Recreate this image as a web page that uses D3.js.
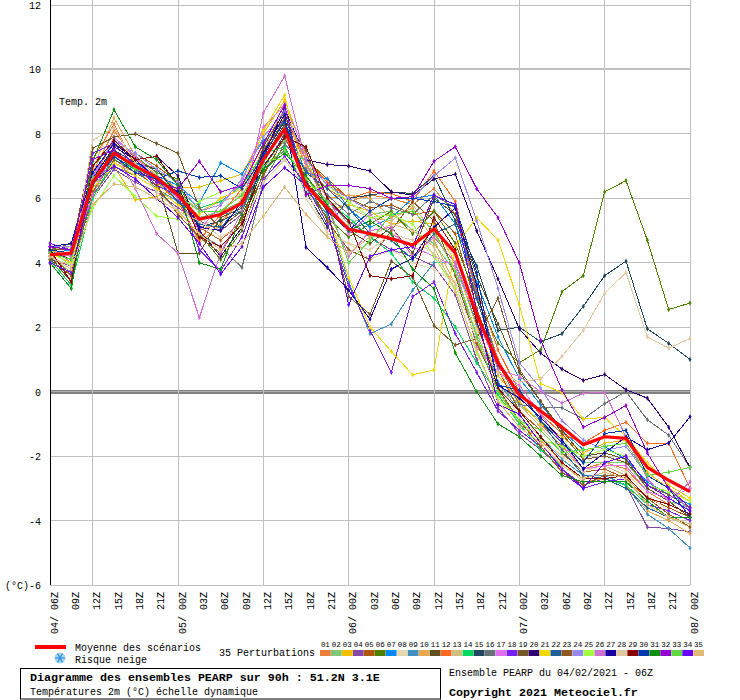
<!DOCTYPE html>
<html><head><meta charset="utf-8">
<script src="https://cdn.jsdelivr.net/npm/d3@7"></script>
<style>
html,body{margin:0;padding:0;background:#fff}
svg{display:block}
text{font-family:"Liberation Mono","DejaVu Sans Mono",monospace;fill:#000;white-space:pre}
</style></head><body>
<svg id="c" width="740" height="700"></svg>
<script>
const hours = ["04/ 06Z","09Z","12Z","15Z","18Z","21Z","05/ 00Z","03Z","06Z","09Z","12Z","15Z","18Z","21Z","06/ 00Z","03Z","06Z","09Z","12Z","15Z","18Z","21Z","07/ 00Z","03Z","06Z","09Z","12Z","15Z","18Z","21Z","08/ 00Z"];
const gridHours = [2,6,10,14,18,22,26,30];
const yTicks = [-6,-4,-2,0,2,4,6,8,10,12];
const labels = ["01","02","03","04","05","06","07","08","09","10","11","12","13","14","15","16","17","18","19","20","21","22","23","24","25","26","27","28","29","30","31","32","33","34","35"];
const colors = ["#e8803a","#80c878","#f0c000","#8848a8","#b05810","#508000","#0088ff","#e8d8b0","#4090c0","#e8a850","#605020","#ff6820","#d0c080","#00d860","#204860","#687078","#e070f0","#7820f0","#785828","#300070","#f0d800","#206098","#905820","#9888f0","#a0ff40","#d070d0","#1800a0","#e0c8a0","#880000","#0038b0","#109010","#9000d0","#60d840","#6800f8","#e0b878"];
const mean = [4.25,4.3,6.5,7.4,7.0,6.65,6.1,5.35,5.5,5.85,7.2,8.15,6.4,5.7,5.05,4.9,4.75,4.55,5.05,4.3,2.4,0.9,-0.1,-0.6,-1.1,-1.65,-1.4,-1.45,-2.35,-2.75,-3.1];
const s01 = [4.3,4.0,6.8,8.1,7.2,6.9,6.2,5.0,5.3,5.9,7.5,8.6,7.0,6.3,5.9,6.1,6.0,5.8,6.3,5.5,3.0,1.0,-0.3,-1.0,-1.7,-2.4,-2.2,-2.4,-3.1,-3.5,-3.8];
const s02 = [4.2,3.7,6.3,7.2,6.9,6.5,6.0,5.4,5.6,5.9,7.0,7.8,7.1,6.0,5.2,5.5,5.6,5.0,4.6,3.7,1.8,0.2,-0.4,-0.9,-1.5,-2.2,-2.2,-2.2,-3.0,-3.4,-3.6];
const s03 = [4.4,4.2,6.2,7.0,5.95,6.05,6.35,6.35,6.55,6.75,8.0,9.05,7.3,5.6,5.8,5.6,5.2,5.3,5.2,4.0,2.0,0.5,-0.3,-1.0,-1.4,-1.9,-1.6,-1.5,-2.5,-3.0,-3.4];
const s04 = [4.1,3.9,6.0,6.9,6.5,6.2,5.7,5.3,5.0,5.5,6.9,7.5,6.6,5.9,5.3,4.8,4.4,4.2,3.9,3.0,1.0,-0.5,-1.3,-1.8,-2.4,-2.9,-2.7,-2.9,-4.2,-4.25,-4.35];
const s05 = [4.3,3.6,6.6,7.8,7.4,7.0,6.5,5.1,4.7,5.3,7.3,8.5,7.2,6.6,6.0,5.7,5.8,5.5,5.6,4.9,2.6,0.7,-0.6,-1.2,-1.9,-2.5,-2.4,-2.7,-3.3,-3.6,-3.9];
const s06 = [4.4,4.6,7.0,7.7,7.3,6.8,6.6,4.9,4.1,5.0,6.8,7.6,6.3,5.4,4.8,5.2,5.6,4.9,5.6,4.6,2.9,1.5,0.9,1.3,3.1,3.6,6.2,6.55,4.7,2.55,2.75];
const s07 = [4.3,4.4,6.7,7.5,7.1,6.7,6.4,5.85,7.1,6.75,7.8,8.4,6.8,6.6,5.7,5.1,5.4,6.0,6.1,5.2,3.4,1.7,0.4,-0.4,-1.2,-1.8,-1.7,-2.1,-2.8,-3.2,-3.5];
const s08 = [4.0,3.5,5.9,7.3,6.8,6.6,5.9,5.0,5.6,6.2,7.4,8.0,6.0,5.0,4.6,4.1,4.4,4.0,3.8,3.4,1.9,0.3,-0.8,-1.4,-2.0,-2.5,-2.2,-2.5,-3.2,-3.7,-4.0];
const s09 = [4.2,3.8,6.2,7.3,6.9,6.3,5.9,5.4,5.5,5.6,7.1,8.2,6.3,5.5,3.4,1.8,2.1,3.15,4.0,4.0,2.1,0.3,-0.6,-1.4,-2.1,-2.6,-2.6,-2.9,-3.8,-4.25,-4.85];
const s10 = [4.4,4.1,6.9,8.5,7.3,6.7,6.0,4.6,5.2,6.0,7.6,8.8,7.0,6.0,6.1,6.0,5.4,5.7,4.7,3.3,1.6,0.0,-1.0,-1.5,-2.2,-2.8,-2.7,-2.9,-3.7,-4.0,-4.4];
const s11 = [4.2,3.4,6.4,7.6,7.2,6.6,4.3,4.3,5.4,5.7,7.2,8.3,6.5,5.8,5.0,4.6,5.1,4.3,6.0,5.5,3.6,2.1,0.6,-0.3,-1.2,-2.0,-1.9,-2.1,-3.0,-3.4,-3.9];
const s12 = [4.3,4.3,7.2,8.3,7.0,6.5,5.9,4.7,5.5,6.3,7.7,8.5,7.2,6.5,6.0,6.2,6.15,5.9,6.85,5.9,3.2,1.3,0.0,-0.7,-1.3,-1.6,-1.2,-0.95,-1.6,-1.6,-3.0];
const s13 = [4.4,4.5,6.4,7.1,6.8,6.4,6.2,5.6,5.9,6.1,7.3,8.1,6.7,5.9,5.7,5.4,5.3,5.8,4.9,3.8,2.3,0.7,-0.4,-1.1,-1.8,-2.4,-2.3,-2.6,-3.5,-3.9,-4.2];
const s14 = [4.1,3.3,6.0,7.2,6.9,6.6,6.3,5.7,5.9,6.4,7.4,7.6,6.2,5.9,5.4,4.8,4.3,3.4,2.9,2.0,0.9,-0.1,-1.0,-1.8,-2.3,-2.7,-2.7,-2.9,-3.5,-3.9,-4.1];
const s15 = [4.3,4.2,6.5,7.5,7.1,6.9,6.1,5.1,5.3,5.6,7.6,8.7,6.2,5.1,6.0,6.1,6.2,6.15,6.7,5.3,3.9,1.9,2.0,1.55,1.8,2.65,3.6,4.05,1.95,1.5,1.0];
const s16 = [4.2,3.9,6.1,7.0,6.7,6.3,5.6,4.9,4.5,3.85,6.5,7.7,6.9,6.1,5.5,5.9,5.7,5.5,6.1,5.7,3.1,0.9,-0.4,-0.5,-0.5,-0.85,-0.37,0.0,-0.87,-1.35,-2.35];
const s17 = [4.5,4.0,6.6,7.9,7.3,6.6,6.0,5.0,5.8,6.5,8.2,8.9,7.4,6.0,4.9,5.5,4.9,4.5,4.2,3.9,1.4,0.6,0.2,-0.7,-1.6,-2.4,-2.3,-2.3,-3.1,-3.3,-3.0];
const s18 = [4.6,4.4,7.4,7.7,7.0,6.4,6.1,4.4,3.75,4.8,6.6,7.3,6.4,5.2,3.3,1.9,0.6,2.95,3.4,1.8,0.6,-0.6,-1.2,-1.7,-2.5,-3.0,-2.8,-2.7,-3.5,-3.7,-4.0];
const s19 = [4.4,4.4,7.55,7.9,8.0,7.7,7.4,5.7,5.1,5.6,7.5,8.4,7.5,5.6,2.95,2.4,4.05,3.55,2.05,1.45,1.65,2.9,0.7,-0.3,-1.3,-2.1,-2.0,-2.2,-2.9,-3.2,-3.6];
const s20 = [4.35,4.1,6.6,7.6,7.2,7.3,6.7,5.0,4.2,5.1,7.3,8.8,7.2,7.05,7.0,6.85,6.2,6.1,6.6,6.75,5.0,3.5,1.95,1.2,0.7,0.35,0.53,0.06,-0.2,-1.1,-2.35];
const s21 = [4.3,4.0,6.3,7.1,6.7,6.3,5.8,5.5,6.0,6.3,8.1,9.2,6.4,5.6,3.55,2.0,1.25,0.52,0.68,4.5,5.4,4.7,2.7,0.25,-0.03,-0.85,-0.8,-1.4,-2.2,-2.9,-3.3];
const s22 = [4.2,3.8,6.4,7.3,6.9,6.6,5.9,5.2,5.1,5.8,6.9,8.0,6.8,6.3,5.7,4.9,4.7,4.1,4.9,5.2,2.9,0.8,0.0,-0.9,-1.8,-2.6,-2.7,-3.0,-3.6,-3.9,-4.1];
const s23 = [4.1,3.6,6.2,7.2,6.8,6.4,5.5,4.8,4.3,5.4,6.7,7.9,6.6,5.3,4.4,4.1,5.0,5.9,5.3,3.6,1.5,0.1,-0.9,-1.7,-2.5,-2.9,-2.6,-2.6,-3.3,-3.8,-4.2];
const s24 = [4.5,4.5,6.7,7.8,7.4,6.9,6.5,5.6,5.8,6.6,7.9,8.7,7.2,6.4,6.0,5.6,6.0,6.0,6.7,7.25,5.3,3.2,0.9,0.1,-0.9,-1.5,-1.8,-1.7,-2.6,-3.0,-3.7];
const s25 = [4.4,3.9,5.7,6.7,6.05,5.45,5.35,5.9,6.2,6.4,7.2,7.2,6.3,6.4,5.9,5.4,5.5,5.2,4.2,3.2,1.2,-0.2,-0.9,-1.5,-1.7,-2.0,-1.8,-2.0,-2.9,-3.1,-3.4];
const s26 = [4.3,4.2,6.1,7.5,6.3,4.9,4.3,2.3,4.3,5.6,8.65,9.8,7.1,5.7,4.2,5.0,5.1,4.2,4.8,4.0,2.3,0.7,0.47,0.0,-0.35,-0.05,-0.02,-1.4,-2.7,-3.4,-2.8];
const s27 = [4.5,4.6,6.8,7.7,7.2,6.6,6.2,5.1,5.0,5.9,7.4,8.6,4.48,3.85,3.15,2.25,3.8,4.15,5.1,5.7,3.3,0.2,-0.2,-0.8,-1.5,-2.4,-1.9,-1.4,-1.8,-1.6,-0.78];
const s28 = [4.2,3.9,7.8,8.2,7.1,6.2,5.6,5.3,4.8,5.1,6.5,7.2,6.3,4.9,4.6,4.4,4.9,4.7,4.3,3.3,1.6,0.6,0.3,0.4,1.1,1.9,3.05,3.7,1.7,1.35,1.65];
const s29 = [4.4,3.4,7.0,7.8,7.2,7.3,6.4,4.8,4.5,5.2,7.0,7.9,7.6,6.0,5.3,3.6,3.5,3.6,5.4,4.4,2.2,0.1,-0.6,-1.4,-2.2,-2.7,-2.7,-2.6,-3.3,-3.5,-3.8];
const s30 = [4.4,4.3,6.5,7.3,6.8,6.6,6.85,6.65,6.7,6.3,7.3,8.4,6.5,5.6,5.0,5.6,6.0,6.0,5.9,5.75,3.7,0.2,0.05,-0.9,-1.6,-2.2,-1.3,-1.2,-2.6,-3.0,-3.9];
const s31 = [4.0,3.2,7.15,8.75,7.6,7.2,6.4,4.0,3.8,5.5,6.9,7.4,6.7,5.8,5.0,5.3,4.9,3.8,3.2,1.2,0.0,-1.0,-1.4,-2.0,-2.6,-2.8,-2.8,-2.8,-3.4,-3.9,-3.9];
const s32 = [4.5,4.4,7.2,7.5,6.9,6.5,6.3,7.15,6.2,6.4,7.7,8.9,6.1,6.4,6.4,6.3,6.0,6.05,7.15,7.6,6.3,5.4,4.0,1.6,0.05,-1.1,-0.8,-0.43,-1.9,-3.0,-3.6];
const s33 = [4.3,4.1,6.6,7.4,6.9,6.7,6.1,5.6,5.6,6.1,7.0,7.5,6.6,5.9,4.0,4.7,5.5,5.6,5.0,3.7,1.7,0.0,-0.9,-1.2,-1.9,-1.8,-1.7,-1.6,-2.6,-2.5,-2.35];
const s34 = [4.0,3.7,6.5,7.0,6.6,6.0,5.4,4.6,3.65,4.5,6.35,6.95,6.4,5.7,2.7,4.2,4.4,4.5,6.1,5.8,2.5,-0.4,-0.7,-1.6,-2.4,-3.0,-2.2,-2.0,-2.9,-3.3,-3.7];
const s35 = [4.2,3.8,5.8,6.45,6.35,6.0,5.6,4.9,4.4,4.6,5.45,6.35,5.5,4.8,4.3,4.8,5.2,5.0,4.5,3.1,1.3,-0.3,-1.1,-1.6,-2.3,-2.7,-2.5,-2.7,-3.5,-3.9,-4.1];
const perturbations = [s01,s02,s03,s04,s05,s06,s07,s08,s09,s10,s11,s12,s13,s14,s15,s16,s17,s18,s19,s20,s21,s22,s23,s24,s25,s26,s27,s28,s29,s30,s31,s32,s33,s34,s35];

const svg = d3.select("#c");
const x = d3.scaleLinear().domain([0,30]).range([50,690]);
const y = d3.scaleLinear().domain([-6,12]).range([585,5]);
const slot = d3.scaleBand().domain(labels).range([320,704]).paddingInner(0.02);

// horizontal grid
svg.append("g").attr("shape-rendering","crispEdges").selectAll("line").data(yTicks).join("line")
  .attr("x1",50).attr("x2",690).attr("y1",d=>y(d)).attr("y2",d=>y(d))
  .attr("stroke",d=>d===0?"#808080":"#c0c0c0")
  .attr("stroke-width",d=>d===0?4:(d===10?2:1));
svg.append("line").attr("x1",50).attr("x2",690).attr("y1",y(0)).attr("y2",y(0)).attr("stroke","#b0b0b0").attr("stroke-width",1).attr("shape-rendering","crispEdges");
// vertical grid
svg.append("g").attr("shape-rendering","crispEdges").selectAll("line").data(gridHours).join("line")
  .attr("x1",d=>x(d)).attr("x2",d=>x(d)).attr("y1",0).attr("y2",585)
  .attr("stroke","#c0c0c0").attr("stroke-width",1);
svg.append("line").attr("x1",50).attr("x2",50).attr("y1",0).attr("y2",585).attr("stroke","#000").attr("stroke-width",1).attr("shape-rendering","crispEdges");

// axes
const yAxis = d3.axisLeft(y).tickValues(yTicks).tickSize(0).tickPadding(9).tickFormat(d=>d===-6?"(°C)-6":d3.format("d")(d).replace("−","-"));
const gy = svg.append("g").attr("transform","translate(50,0)").call(yAxis);
gy.select(".domain").remove();
gy.selectAll("text").attr("font-size",10).attr("font-family",'"Liberation Mono"').attr("dy","0.35em");

const xAxis = d3.axisBottom(x).tickValues(d3.range(31)).tickSize(0).tickFormat(i=>hours[i]);
const gx = svg.append("g").attr("transform","translate(0,585)").call(xAxis);
gx.select(".domain").remove();
gx.selectAll("text").attr("font-size",10).attr("font-family",'"Liberation Mono"')
  .attr("text-anchor","end").attr("dy",null).attr("y",null)
  .attr("transform","translate(7,7) rotate(-90)");

// series
const line = d3.line().x((d,i)=>x(i)).y(d=>y(d));
const gs = svg.append("g");
perturbations.forEach((vals,k)=>{
  const g = gs.append("g");
  g.append("path").attr("d",line(vals)).attr("fill","none").attr("stroke",colors[k]).attr("stroke-width",1).attr("shape-rendering","crispEdges");
  g.selectAll("path.m").data(vals).join("path").attr("class","m")
    .attr("d",d3.symbol(d3.symbolDiamond,8)())
    .attr("transform",(d,i)=>`translate(${x(i)},${y(d)})`)
    .attr("fill",colors[k]);
});
svg.append("path").attr("d",line(mean)).attr("fill","none").attr("stroke","#ff0000").attr("stroke-width",3.2).attr("stroke-linejoin","round");

svg.append("text").attr("x",59).attr("y",105).attr("font-size",10).text("Temp. 2m");

// legend
svg.append("line").attr("x1",35).attr("x2",66).attr("y1",647).attr("y2",647).attr("stroke","#ff0000").attr("stroke-width",4);
svg.append("text").attr("x",75).attr("y",651).attr("font-size",10).text("Moyenne des scénarios");
svg.append("text").attr("x",75).attr("y",663).attr("font-size",10).text("Risque neige");
const flake = svg.append("g").attr("transform","translate(60,658)");
flake.append("circle").attr("r",5.5).attr("fill","#a8d8f0");
[0,60,120].forEach(a=>flake.append("line").attr("x1",-5).attr("x2",5).attr("transform",`rotate(${a})`).attr("stroke","#3090e0").attr("stroke-width",1.2));
svg.append("text").attr("x",219).attr("y",656).attr("font-size",10).text("35 Perturbations");
const lg = svg.append("g");
lg.selectAll("rect").data(labels).join("rect")
  .attr("x",d=>slot(d)).attr("y",650).attr("width",slot.bandwidth()).attr("height",6)
  .attr("fill",(d,i)=>colors[i]);
lg.selectAll("text").data(labels).join("text")
  .attr("x",d=>slot(d)+slot.bandwidth()/2).attr("y",647).attr("text-anchor","middle")
  .attr("font-size",8).attr("font-family",'"DejaVu Sans Mono"').attr("textLength",9).attr("lengthAdjust","spacingAndGlyphs").text(d=>d);

svg.append("rect").attr("x",20.5).attr("y",668.5).attr("width",420).attr("height",30.5).attr("fill","none").attr("stroke","#000").attr("stroke-width",1);
svg.append("text").attr("x",30).attr("y",681).attr("font-size",11.67).attr("font-weight","bold").text("Diagramme des ensembles PEARP sur 90h : 51.2N 3.1E");
svg.append("text").attr("x",30).attr("y",695).attr("font-size",10).text("Températures 2m (°C) échelle dynamique");
svg.append("text").attr("x",449).attr("y",676).attr("font-size",10).text("Ensemble PEARP du 04/02/2021 - 06Z");
svg.append("text").attr("x",449).attr("y",696).attr("font-size",11.67).attr("font-weight","bold").text("Copyright 2021 Meteociel.fr");
</script>
</body></html>
